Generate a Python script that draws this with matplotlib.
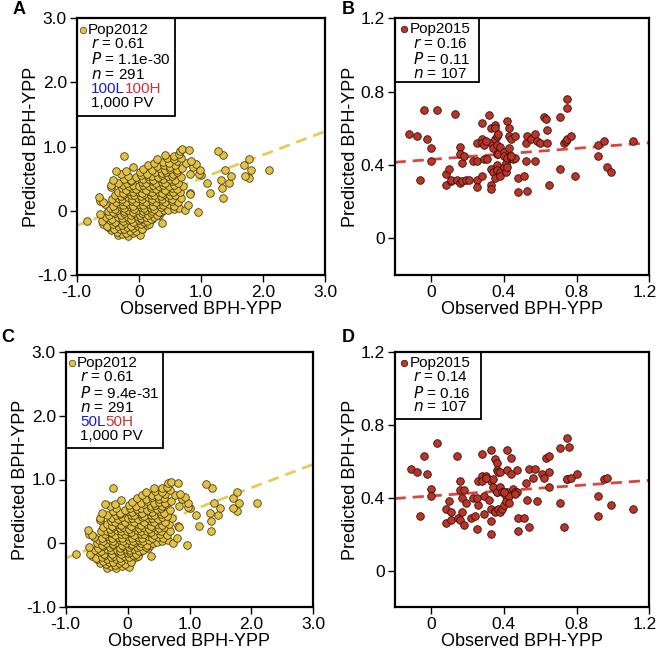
import matplotlib.pyplot as plt
from matplotlib.transforms import ScaledTranslation

plt.rcParams['font.family'] = ['Liberation Sans', 'DejaVu Sans']

# === Pop2012 (panels A and C): observed / predicted BPH-YPP ===
obs_a = [
    -0.34, -0.27, -0.18, -0.09, 0.02,
    -0.44, -0.35, -0.30, -0.20, -0.14, -0.05, 0.06,
    -0.49, -0.40, -0.33, -0.24, -0.19, -0.10, -0.01, 0.05, 0.13,
    -0.57, -0.51, -0.41, -0.36, -0.27, -0.22, -0.12, -0.06, 0.03, 0.09, 0.17,
    -0.83, -0.60, -0.47, -0.38, -0.29, -0.25, -0.15, -0.10, 0.00, 0.04, 0.13, 0.22, 0.38,
    -0.53, -0.43, -0.34, -0.27, -0.17, -0.12, -0.03, 0.04, 0.11, 0.19, 0.25, 0.33,
    -0.62, -0.48, -0.39, -0.29, -0.23, -0.13, -0.08, 0.02, 0.06, 0.15, 0.20, 0.29, 0.36,
    -0.49, -0.41, -0.35, -0.24, -0.18, -0.09, -0.03, 0.07, 0.12, 0.21, 0.32, 0.41, 0.96,
    -0.46, -0.39, -0.29, -0.23, -0.13, -0.07, 0.03, 0.09, 0.19, 0.25, 0.35, 0.47, 0.56, 0.65, 0.74,
    -0.55, -0.41, -0.31, -0.25, -0.15, -0.09, 0.01, 0.07, 0.17, 0.23, 0.33, 0.39, 0.49, 0.57, 0.79,
    -0.62, -0.57, -0.37, -0.27, -0.21, -0.11, -0.05, 0.05, 0.11, 0.21, 0.27, 0.37, 0.43, 0.53, 0.63,
    -0.64, -0.43, -0.33, -0.27, -0.17, -0.11, -0.01, 0.05, 0.15, 0.21, 0.31, 0.37, 0.47, 0.54, 0.68, 1.35,
    -0.39, -0.29, -0.23, -0.13, -0.07, 0.03, 0.09, 0.19, 0.25, 0.35, 0.41, 0.51, 0.59, 0.82,
    -0.33, -0.26, -0.16, -0.10, 0.00, 0.06, 0.16, 0.22, 0.32, 0.38, 0.48, 0.55, 0.67, 0.83, 1.15,
    -0.45, -0.27, -0.21, -0.11, -0.05, 0.05, 0.11, 0.21, 0.27, 0.37, 0.43, 0.53, 0.61, 1.34,
    -0.44, -0.25, -0.15, -0.09, 0.01, 0.07, 0.17, 0.23, 0.33, 0.39, 0.49, 0.56, 0.71,
    -0.33, -0.19, -0.13, 0.05, 0.11, 0.21, 0.27, 0.37, 0.43, 0.54, 0.63, 1.10, 1.46,
    -0.42, -0.23, -0.13, 0.01, 0.07, 0.17, 0.23, 0.33, 0.39, 0.51, 0.59, 1.33, 1.77, 1.71,
    -0.18, -0.04, 0.04, 0.15, 0.21, 0.31, 0.37, 0.47, 0.54, 0.68, 1.00, 1.49,
    -0.28, 0.02, 0.14, 0.26, 0.37, 0.44, 0.55, 0.62, 0.83, 0.97,
    -0.36, -0.21, 0.07, 0.21, 0.32, 0.43, 0.51, 0.61, 0.70, 0.98, 1.39, 1.80, 2.09,
    -0.10, 0.15, 0.29, 0.40, 0.51, 0.58, 0.88,
    0.24, 0.39, 0.49, 0.61, 0.76, 0.92, 1.70,
    0.30, 0.45, 0.56, 0.68, 0.84, 1.77,
    -0.23, 0.43, 0.56, 0.64, 1.36,
    0.66, 0.70, 0.81, 1.27,
]
pred_a = [
    -0.38, -0.36, -0.39, -0.35, -0.37,
    -0.30, -0.33, -0.29, -0.34, -0.31, -0.32, -0.28,
    -0.25, -0.28, -0.24, -0.29, -0.25, -0.27, -0.24, -0.29, -0.22,
    -0.20, -0.23, -0.21, -0.18, -0.22, -0.19, -0.23, -0.19, -0.21, -0.18, -0.20,
    -0.16, -0.16, -0.14, -0.17, -0.13, -0.16, -0.14, -0.17, -0.15, -0.13, -0.16, -0.12, -0.19,
    -0.10, -0.12, -0.09, -0.11, -0.10, -0.12, -0.08, -0.11, -0.09, -0.12, -0.10, -0.07,
    -0.05, -0.07, -0.04, -0.06, -0.03, -0.07, -0.04, -0.06, -0.03, -0.06, -0.04, -0.06, -0.02,
    0.00, -0.02, 0.01, -0.01, 0.02, -0.02, 0.01, -0.01, 0.02, 0.00, -0.02, 0.01, -0.02,
    0.05, 0.03, 0.06, 0.04, 0.06, 0.03, 0.06, 0.04, 0.05, 0.03, 0.06, 0.02, 0.03, 0.05, 0.01,
    0.10, 0.08, 0.11, 0.09, 0.10, 0.08, 0.11, 0.09, 0.10, 0.08, 0.11, 0.09, 0.10, 0.08, 0.09,
    0.15, 0.13, 0.14, 0.16, 0.13, 0.15, 0.14, 0.16, 0.13, 0.15, 0.14, 0.16, 0.13, 0.15, 0.13,
    0.21, 0.19, 0.20, 0.18, 0.21, 0.19, 0.20, 0.18, 0.21, 0.19, 0.20, 0.18, 0.21, 0.19, 0.20, 0.20,
    0.25, 0.23, 0.26, 0.24, 0.25, 0.23, 0.26, 0.24, 0.25, 0.23, 0.26, 0.24, 0.25, 0.27,
    0.30, 0.28, 0.31, 0.29, 0.30, 0.28, 0.31, 0.29, 0.30, 0.28, 0.31, 0.29, 0.30, 0.26, 0.28,
    0.37, 0.35, 0.33, 0.36, 0.34, 0.35, 0.33, 0.36, 0.34, 0.35, 0.33, 0.36, 0.34, 0.35,
    0.40, 0.40, 0.38, 0.41, 0.39, 0.40, 0.38, 0.41, 0.39, 0.40, 0.38, 0.41, 0.39,
    0.44, 0.44, 0.46, 0.45, 0.44, 0.46, 0.43, 0.45, 0.44, 0.46, 0.43, 0.44, 0.44,
    0.48, 0.50, 0.48, 0.51, 0.49, 0.50, 0.48, 0.51, 0.49, 0.50, 0.48, 0.48, 0.51, 0.55,
    0.55, 0.53, 0.56, 0.54, 0.55, 0.53, 0.56, 0.54, 0.55, 0.53, 0.56, 0.55,
    0.58, 0.60, 0.58, 0.61, 0.59, 0.60, 0.58, 0.61, 0.58, 0.57,
    0.62, 0.62, 0.65, 0.64, 0.66, 0.63, 0.65, 0.64, 0.67, 0.64, 0.63, 0.63, 0.63,
    0.68, 0.71, 0.70, 0.72, 0.69, 0.71, 0.69,
    0.75, 0.76, 0.74, 0.77, 0.75, 0.73, 0.71,
    0.81, 0.82, 0.80, 0.83, 0.78, 0.80,
    0.86, 0.87, 0.86, 0.89, 0.87,
    0.94, 0.96, 0.95, 0.93,
]
obs_c, pred_c = obs_a, pred_a   # panel C shows the same cloud

# === Pop2015 (panel B) ===
obs_b = [-0.12, -0.08, -0.04, -0.02, 0.00, 0.00, -0.06, 0.03, 0.13, 0.16, 0.16, 0.17,
         0.18, 0.08, 0.10, 0.08, 0.11, 0.11, 0.14, 0.16, 0.17, 0.19, 0.21, 0.23, 0.25,
         0.25, 0.25, 0.25, 0.28, 0.28, 0.28, 0.28, 0.29, 0.29, 0.31, 0.32, 0.33, 0.33,
         0.34, 0.33, 0.33, 0.33, 0.34, 0.35, 0.35, 0.35, 0.35, 0.36, 0.36, 0.36, 0.36,
         0.36, 0.37, 0.37, 0.38, 0.38, 0.38, 0.40, 0.40, 0.40, 0.41, 0.41, 0.42, 0.42,
         0.43, 0.43, 0.42, 0.43, 0.44, 0.44, 0.45, 0.46, 0.46, 0.48, 0.51, 0.48, 0.52,
         0.52, 0.53, 0.53, 0.55, 0.57, 0.57, 0.58, 0.60, 0.62, 0.63, 0.64, 0.64, 0.65,
         0.71, 0.71, 0.73, 0.74, 0.75, 0.75, 0.75, 0.77, 0.79, 0.92, 0.92, 0.95, 0.97,
         0.99, 1.11, 0.30, 0.44]
pred_b = [0.57, 0.56, 0.70, 0.54, 0.49, 0.42, 0.32, 0.70, 0.68, 0.50, 0.46, 0.41,
          0.45, 0.35, 0.38, 0.29, 0.31, 0.32, 0.32, 0.30, 0.31, 0.32, 0.32, 0.42, 0.32,
          0.28, 0.42, 0.52, 0.63, 0.54, 0.52, 0.34, 0.43, 0.51, 0.43, 0.67, 0.60, 0.52,
          0.49, 0.38, 0.29, 0.27, 0.36, 0.33, 0.54, 0.62, 0.60, 0.56, 0.46, 0.51, 0.40,
          0.37, 0.46, 0.57, 0.50, 0.36, 0.34, 0.39, 0.47, 0.45, 0.41, 0.36, 0.44, 0.64,
          0.56, 0.49, 0.39, 0.60, 0.54, 0.44, 0.43, 0.56, 0.44, 0.33, 0.34, 0.25, 0.52,
          0.42, 0.56, 0.26, 0.54, 0.57, 0.42, 0.53, 0.52, 0.66, 0.65, 0.59, 0.52, 0.29,
          0.66, 0.38, 0.52, 0.53, 0.76, 0.71, 0.54, 0.56, 0.34, 0.45, 0.51, 0.53, 0.39,
          0.36, 0.53, 0.53, 0.45]

# === Pop2015 (panel D) ===
obs_d = [-0.11, -0.08, -0.04, -0.02, 0.00, 0.00, -0.06, 0.03, 0.14, 0.16, 0.16, 0.18,
         0.17, 0.08, 0.10, 0.08, 0.11, 0.11, 0.15, 0.16, 0.17, 0.18, 0.22, 0.23, 0.25,
         0.24, 0.26, 0.26, 0.28, 0.28, 0.28, 0.29, 0.29, 0.30, 0.32, 0.33, 0.33, 0.34,
         0.34, 0.33, 0.33, 0.33, 0.35, 0.35, 0.35, 0.36, 0.36, 0.36, 0.37, 0.36, 0.37,
         0.38, 0.38, 0.38, 0.39, 0.39, 0.40, 0.40, 0.41, 0.41, 0.42, 0.42, 0.42, 0.43,
         0.43, 0.44, 0.44, 0.45, 0.46, 0.47, 0.47, 0.48, 0.51, 0.48, 0.52, 0.53, 0.54,
         0.54, 0.56, 0.57, 0.58, 0.61, 0.62, 0.63, 0.65, 0.65, 0.65, 0.71, 0.71, 0.73,
         0.75, 0.75, 0.75, 0.76, 0.77, 0.80, 0.92, 0.92, 0.95, 0.97, 0.99, 1.11, 0.30,
         0.46, 0.25, 0.40, 0.19]
pred_d = [0.56, 0.54, 0.63, 0.53, 0.45, 0.41, 0.30, 0.70, 0.63, 0.49, 0.44, 0.44,
          0.40, 0.34, 0.38, 0.26, 0.28, 0.32, 0.29, 0.28, 0.32, 0.25, 0.29, 0.40, 0.23,
          0.30, 0.36, 0.49, 0.64, 0.52, 0.49, 0.31, 0.41, 0.52, 0.39, 0.66, 0.49, 0.46,
          0.50, 0.34, 0.27, 0.20, 0.33, 0.32, 0.61, 0.59, 0.55, 0.43, 0.54, 0.43, 0.34,
          0.46, 0.54, 0.32, 0.34, 0.43, 0.36, 0.43, 0.41, 0.38, 0.43, 0.66, 0.55, 0.41,
          0.37, 0.62, 0.53, 0.45, 0.43, 0.55, 0.43, 0.29, 0.29, 0.22, 0.48, 0.39, 0.56,
          0.24, 0.51, 0.56, 0.38, 0.53, 0.51, 0.62, 0.63, 0.54, 0.46, 0.67, 0.37, 0.24,
          0.50, 0.50, 0.73, 0.68, 0.51, 0.53, 0.30, 0.41, 0.50, 0.51, 0.36, 0.34, 0.51,
          0.42, 0.40, 0.43, 0.37]

# fitted lines (slope, intercept) as drawn in the figure
fit_a = (0.367, 0.137)
fit_b = (0.076, 0.430)
fit_c = (0.367, 0.137)
fit_d = (0.071, 0.410)

legend_a = ["Pop2012", "$r$ = 0.61", "$P$ = 1.1e-30", "$n$ = 291", ("100L", "100H"), "1,000 PV"]
legend_c = ["Pop2012", "$r$ = 0.61", "$P$ = 9.4e-31", "$n$ = 291", ("50L", "50H"), "1,000 PV"]
legend_b = ["Pop2015", "$r$ = 0.16", "$P$ = 0.11", "$n$ = 107"]
legend_d = ["Pop2015", "$r$ = 0.14", "$P$ = 0.16", "$n$ = 107"]

GOLD = "#E3C345"
GOLD_LINE = "#E6CB55"
RED = "#B8352A"
RED_LINE = "#D9483E"

W, H = 658, 653
fig = plt.figure(figsize=(W / 100, H / 100), dpi=100)


def make_axes(left, top, right, bottom):
    return fig.add_axes([left / W, 1 - bottom / H, (right - left) / W, (bottom - top) / H])


def style(ax, lim, ticks, ticklabels, ypad):
    ax.set_xlim(lim)
    ax.set_ylim(lim)
    ax.set_xticks(ticks)
    ax.set_yticks(ticks)
    ax.set_xticklabels(ticklabels)
    ax.set_yticklabels(ticklabels)
    ax.tick_params(direction='out', length=5, width=1, labelsize=12.5, pad=2)
    for s in ax.spines.values():
        s.set_linewidth(1.6)
    ax.set_xlabel("Observed BPH-YPP", fontsize=13, labelpad=1)
    ax.set_ylabel("Predicted BPH-YPP", fontsize=13, labelpad=ypad)


def draw_legend(ax, lines, color, edge, box_w, box_h, xm, xt, rows):
    ax.add_patch(plt.Rectangle((0, 1 - box_h), box_w, box_h, transform=ax.transAxes,
                               fill=False, edgecolor='black', lw=1.3, zorder=5, clip_on=False))
    ax.scatter([xm], [rows[0]], s=22, color=color, edgecolor=edge,
               linewidth=0.5, transform=ax.transAxes, zorder=6, clip_on=False)
    for i, line in enumerate(lines):
        x = xt if i == 0 else xt + 0.012
        if isinstance(line, tuple):
            t1 = ax.text(x, rows[i], line[0], transform=ax.transAxes, fontsize=11,
                         color='#1a1ad0', va='center', ha='left', zorder=6)
            ax.annotate(line[1], xy=(1, 0), xycoords=t1, fontsize=11, color='#d03035',
                        va='bottom', ha='left', zorder=6)
        else:
            ax.text(x, rows[i], line, transform=ax.transAxes, fontsize=11,
                    va='center', ha='left', zorder=6)


def panel(ax, obs, pred, fit, color, line_color, edge, lim):
    ax.scatter(obs, pred, s=30, color=color, edgecolor=edge, linewidth=0.6, zorder=3)
    xs = list(lim)
    ax.plot(xs, [fit[0] * v + fit[1] for v in xs], ls=(0, (4, 2.5)), color=line_color,
            lw=2, zorder=2)


def nudge_last_xlabel(ax):
    lbl = ax.get_xticklabels()[-1]
    lbl.set_transform(lbl.get_transform() + ScaledTranslation(-5 / 100, 0, fig.dpi_scale_trans))


rows6 = [0.954, 0.900, 0.840, 0.781, 0.724, 0.669]
rows4 = [0.957, 0.900, 0.840, 0.783]

# A
ax = make_axes(76.7, 18.3, 325, 275)
panel(ax, obs_a, pred_a, fit_a, GOLD, GOLD_LINE, '#4a3c10', (-1, 3))
style(ax, (-1, 3), [-1, 0, 1, 2, 3], ["-1.0", "0", "1.0", "2.0", "3.0"], -2)
draw_legend(ax, legend_a, GOLD, '#4a3c10', 0.396, 0.379, 0.027, 0.046, rows6)

# B
ax = make_axes(394.7, 18.3, 649.3, 275)
panel(ax, obs_b, pred_b, fit_b, RED, RED_LINE, '#3a0e08', (-0.2, 1.2))
style(ax, (-0.2, 1.2), [0, 0.4, 0.8, 1.2], ["0", "0.4", "0.8", "1.2"], 1)
nudge_last_xlabel(ax)
draw_legend(ax, legend_b, RED, '#3a0e08', 0.33, 0.247, 0.037, 0.059, rows4)

# C
ax = make_axes(65.7, 351.7, 313.3, 607.3)
panel(ax, obs_c, pred_c, fit_c, GOLD, GOLD_LINE, '#4a3c10', (-1, 3))
style(ax, (-1, 3), [-1, 0, 1, 2, 3], ["-1.0", "0", "1.0", "2.0", "3.0"], -2)
draw_legend(ax, legend_c, GOLD, '#4a3c10', 0.394, 0.375, 0.027, 0.046, rows6)

# D
ax = make_axes(394.7, 351.7, 649.3, 607.3)
panel(ax, obs_d, pred_d, fit_d, RED, RED_LINE, '#3a0e08', (-0.2, 1.2))
style(ax, (-0.2, 1.2), [0, 0.4, 0.8, 1.2], ["0", "0.4", "0.8", "1.2"], 1)
nudge_last_xlabel(ax)
draw_legend(ax, legend_d, RED, '#3a0e08', 0.337, 0.263, 0.037, 0.059, rows4)

# panel letters
for lab, x, y in [("A", 19, 10), ("B", 348, 10), ("C", 8, 338), ("D", 348, 338)]:
    fig.text(x / W, 1 - y / H, lab, fontsize=13, fontweight='bold', ha='center', va='center')

fig.savefig("out.png", dpi=100)
